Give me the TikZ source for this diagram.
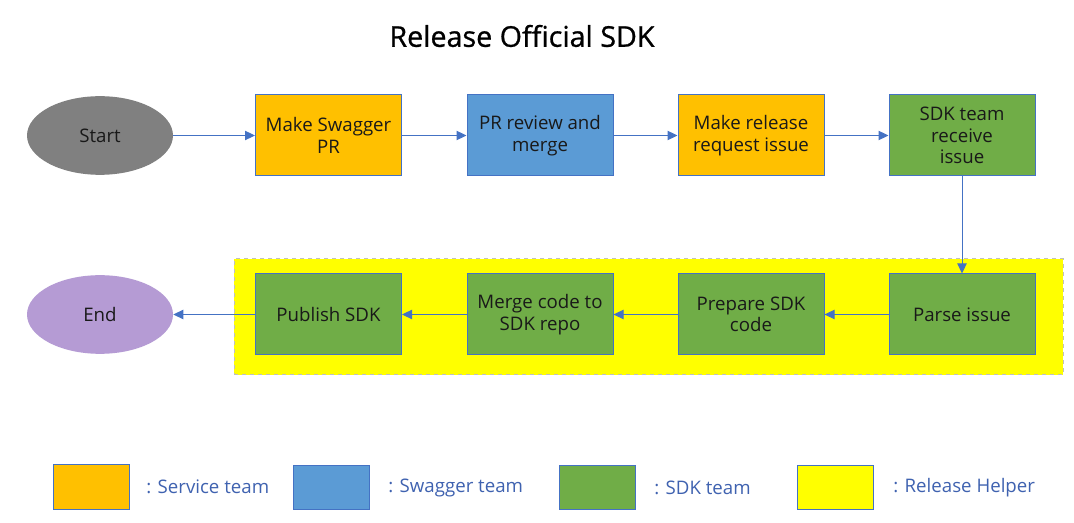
\documentclass[tikz,border=0pt]{standalone}
\usepackage{fontspec}
\setmainfont{Open Sans}
\newfontfamily\titlefont[FakeBold=0.8]{Open Sans}
\usetikzlibrary{arrows.meta,shapes.geometric}
\definecolor{svc}{HTML}{FFC000}
\definecolor{swg}{HTML}{5B9BD5}
\definecolor{sdk}{HTML}{70AD47}
\definecolor{hlp}{HTML}{FFFF00}
\definecolor{edge}{HTML}{4472C4}
\definecolor{legtxt}{HTML}{3F62B0}
\definecolor{startc}{HTML}{808080}
\definecolor{endc}{HTML}{B59BD4}
\tikzset{
  x=0.75pt,y=-0.75pt,
  stepbox/.style={draw=edge,line width=0.75pt,minimum width=109.5pt,minimum height=60.75pt,inner sep=1pt,align=center,font=\fontsize{14}{16}\selectfont,text=black!90},
  term/.style={ellipse,minimum width=109.5pt,minimum height=59pt,inner sep=0pt,font=\fontsize{14}{16}\selectfont,text=black!90},
  flow/.style={draw=edge,line width=0.75pt,-{Triangle[length=7.5pt,width=7pt]}},
  legbox/.style={draw=edge,line width=0.75pt,minimum width=57pt,minimum height=33pt,inner sep=0pt},
  legtext/.style={anchor=west,text=legtxt,font=\fontsize{14}{16}\selectfont,inner sep=0pt}
}
\begin{document}
\begin{tikzpicture}
\useasboundingbox (0,0) rectangle (1074,523);
\fill[white] (0,0) rectangle (1074,523);
\node (title) at (522,36) {\titlefont\fontsize{21.5}{25}\selectfont Release Official SDK};
% helper area
\node[draw=black!25,dashed,line width=0.75pt,fill=hlp,minimum width=621.75pt,minimum height=87pt,inner sep=0pt] (helper) at (648.5,317) {};
% terminals
\node[term,fill=startc] (start) at (100,135.5) {Start};
\node[term,fill=endc] (end) at (100,314.5) {End};
% row 1
\node[stepbox,fill=svc] (b1) at (328.5,135.5) {Make Swagger\\PR};
\node[stepbox,fill=swg] (b2) at (540,135.5) {PR review and\\merge};
\node[stepbox,fill=svc] (b3) at (751,135.5) {Make release\\request issue};
\node[stepbox,fill=sdk] (b4) at (962,135.5) {SDK team\\receive\\issue};
% row 2
\node[stepbox,fill=sdk] (c1) at (962,314.5) {Parse issue};
\node[stepbox,fill=sdk] (c2) at (751,314.5) {Prepare SDK\\code};
\node[stepbox,fill=sdk] (c3) at (540,314.5) {Merge code to\\SDK repo};
\node[stepbox,fill=sdk] (c4) at (328.5,314.5) {Publish SDK};
% connectors
\draw[flow] (start) -- (b1);
\draw[flow] (b1) -- (b2);
\draw[flow] (b2) -- (b3);
\draw[flow] (b3) -- (b4);
\draw[flow] (b4) -- (c1);
\draw[flow] (c1) -- (c2);
\draw[flow] (c2) -- (c3);
\draw[flow] (c3) -- (c4);
\draw[flow] (c4) -- (end);
% legend
\node[legbox,fill=svc] (l1) at (91,487) {};
\node[legtext] (t1) at (146,487) {: Service team};
\node[legbox,fill=swg] (l2) at (331,487.5) {};
\node[legtext] (t2) at (388,487.5) {: Swagger team};
\node[legbox,fill=sdk] (l3) at (597,487.5) {};
\node[legtext] (t3) at (654,487.5) {: SDK team};
\node[legbox,fill=hlp] (l4) at (835,487.5) {};
\node[legtext] (t4) at (893,487.5) {: Release Helper};
\end{tikzpicture}
\end{document}
